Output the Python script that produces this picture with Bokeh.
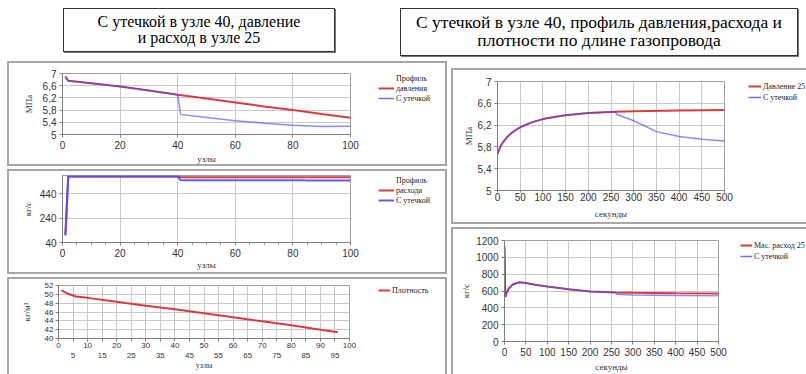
import numpy as np
from bokeh.plotting import figure
from bokeh.models import (Div, FixedTicker, CustomJSTickFormatter, Legend, LegendItem,
                          LinearAxis, Range1d)
from bokeh.layouts import column, row
from bokeh.embed import file_html
from bokeh.resources import INLINE

# ---------------- data ----------------
title_left = ["С утечкой в узле 40, давление", "и расход в узле 25"]
title_right = ["С утечкой в узле 40, профиль давления,расхода и", "плотности по длине газопровода"]

# panel 1: pressure profile along nodes
p1_nodes_red = [1, 2, 10, 20, 30, 40, 50, 60, 70, 80, 90, 100]
p1_press_red = [6.90, 6.76, 6.68, 6.57, 6.44, 6.30, 6.18, 6.05, 5.92, 5.80, 5.67, 5.55]
p1_nodes_blue = [1, 2, 10, 20, 30, 40, 41, 50, 60, 70, 80, 90, 100]
p1_press_blue = [6.90, 6.76, 6.68, 6.57, 6.44, 6.30, 5.66, 5.56, 5.45, 5.37, 5.30, 5.26, 5.27]
p1_xticks = [0, 20, 40, 60, 80, 100]
p1_yticks = [5, 5.4, 5.8, 6.2, 6.6, 7]
p1_labels = ["Профиль", "давления", "С утечкой"]

# panel 2: flow profile along nodes
p2_nodes_red = [1, 2, 40, 41, 100]
p2_flow_red = [100, 582, 582, 575, 575]
p2_nodes_blue = [1, 2, 40, 41, 84, 85, 100]
p2_flow_blue = [100, 582, 582, 552, 552, 548, 548]
p2_xticks = [0, 20, 40, 60, 80, 100]
p2_yticks = [40, 240, 440]
p2_labels = ["Профиль", "расхода", "С утечкой"]

# panel 3: density profile
p3_nodes = [1, 3, 6, 10, 20, 30, 40, 50, 60, 70, 80, 90, 96]
p3_dens = [50.9, 50.2, 49.5, 49.2, 48.3, 47.4, 46.6, 45.7, 44.8, 43.9, 43.0, 42.0, 41.4]
p3_xticks = [0, 5, 10, 15, 20, 25, 30, 35, 40, 45, 50, 55, 60, 65, 70, 75, 80, 85, 90, 95, 100]
p3_xticks_row2 = [5, 15, 25, 35, 45, 55, 65, 75, 85, 95]
p3_yticks = [40, 42, 44, 46, 48, 50, 52]
p3_labels = ["Плотность"]

# panel 4: pressure at node 25 vs time
p4_t_red = [0, 5, 10, 20, 30, 40, 50, 75, 100, 125, 150, 200, 260, 300, 400, 500]
p4_p_red = [5.67, 5.78, 5.86, 5.97, 6.05, 6.11, 6.16, 6.25, 6.31, 6.35, 6.38, 6.42, 6.445, 6.455, 6.47, 6.475]
p4_t_blue = [0, 5, 10, 20, 30, 40, 50, 75, 100, 125, 150, 200, 260, 262, 300, 350, 400, 450, 500]
p4_p_blue = [5.67, 5.78, 5.86, 5.97, 6.05, 6.11, 6.16, 6.25, 6.31, 6.35, 6.38, 6.42, 6.445,
             6.40, 6.28, 6.08, 5.99, 5.94, 5.91]
p4_xticks = [0, 50, 100, 150, 200, 250, 300, 350, 400, 450, 500]
p4_yticks = [5, 5.4, 5.8, 6.2, 6.6, 7]
p4_labels = ["Давление 25", "С утечкой"]

# panel 5: mass flow at node 25 vs time
p5_t_red = [0, 2, 5, 10, 20, 35, 50, 75, 100, 150, 200, 260, 300, 400, 500]
p5_f_red = [1130, 530, 575, 630, 680, 703, 696, 672, 653, 621, 594, 582, 578, 572, 570]
p5_t_blue = [0, 2, 5, 10, 20, 35, 50, 75, 100, 150, 200, 260, 262, 300, 400, 500]
p5_f_blue = [1130, 530, 575, 630, 680, 703, 696, 672, 653, 621, 594, 582, 560, 553, 547, 545]
p5_xticks = [0, 50, 100, 150, 200, 250, 300, 350, 400, 450, 500]
p5_yticks = [0, 200, 400, 600, 800, 1000, 1200]
p5_labels = ["Мас. расход 25", "С утечкой"]

RED = "#dc3b3b"
BLUE = "#4b4bff"
GRAY = "#a6a6a6"

comma_fmt = "return (Math.round(tick*10)/10).toString().replace('.', ',');"


def make_fig(w, h, xr, yr, ml, mr, mt, mb):
    p = figure(width=w, height=h, x_range=Range1d(*xr), y_range=Range1d(*yr),
               output_backend="svg", toolbar_location=None,
               min_border_left=ml, min_border_right=mr, min_border_top=mt, min_border_bottom=mb,
               margin=0)
    p.border_fill_color = None
    p.background_fill_color = "white"
    p.outline_line_color = "#a0a0a0"
    p.xgrid.grid_line_color = "#c8c8c8"
    p.ygrid.grid_line_color = "#c8c8c8"
    return p


def style_axes(p, fs):
    for ax in p.xaxis + p.yaxis:
        ax.axis_line_color = "#808080"
        ax.major_tick_line_color = "#808080"
        ax.minor_tick_line_color = None
        ax.major_tick_in = 0
        ax.major_tick_out = 3
        ax.major_label_standoff = 3
        ax.major_label_text_font = "Liberation Sans"
        ax.major_label_text_font_size = fs
        ax.major_label_text_color = "#333333"
        ax.axis_label_text_font = "Liberation Serif"
        ax.axis_label_text_font_size = "9px"
        ax.axis_label_text_font_style = "normal"
        ax.axis_label_text_color = "#333333"


def legend_fig(w, h, series, labels, off_x, off_y, gw, sp=0):
    """Separate legend area next to a chart.  `series` holds (x, y, color, width, alpha)
    for each legend row, or None for a text-only row.  The ranges are chosen so that the
    series themselves stay out of view; only the legend keys are visible."""
    lf = figure(width=w, height=h, x_range=Range1d(-2000, -1000), y_range=Range1d(-2000, -1000),
                output_backend="svg", toolbar_location=None,
                x_axis_location=None, y_axis_location=None,
                min_border_left=off_x, min_border_right=0, min_border_top=off_y,
                min_border_bottom=0, margin=0)
    lf.border_fill_color = None
    lf.background_fill_color = None
    lf.outline_line_color = None
    lf.grid.visible = False
    items = []
    for s, lab in zip(series, labels):
        if s is None:
            rend = lf.line(x=[], y=[], line_alpha=0)
        else:
            xs, ys, col, lw, la = s
            rend = lf.line(x=xs, y=ys, line_color=col, line_width=lw, line_alpha=la)
        items.append(LegendItem(label=lab, renderers=[rend]))
    leg = Legend(items=items, location="top_left",
                 padding=0, margin=0, spacing=sp, label_height=10, glyph_height=10,
                 glyph_width=gw, label_standoff=2, border_line_alpha=0,
                 background_fill_alpha=0, label_text_font="Liberation Serif",
                 label_text_font_size="8px", label_text_color="#222222")
    lf.add_layout(leg)
    return lf


def panel(children, shadow, margin):
    return row(*children, spacing=0, margin=margin,
               styles={"background-color": "white", "box-shadow": shadow})


SH_FULL = f"inset 0 0 0 2px {GRAY}"
SH_NOBOTTOM = f"inset 2px 2px 0 0 {GRAY}, inset -2px 0 0 0 {GRAY}"
SH_NORIGHT = f"inset 2px 2px 0 0 {GRAY}, inset 0 -2px 0 0 {GRAY}"
SH_TOPLEFT = f"inset 2px 2px 0 0 {GRAY}"

# ---------------- panel 1 ----------------
p1 = make_fig(355, 105, (0, 100), (5, 7), 55, 12, 12, 32)
p1.line(p1_nodes_red, p1_press_red, line_color=RED, line_width=2)
p1.line(p1_nodes_blue, p1_press_blue, line_color=BLUE, line_width=1.5, line_alpha=0.65)
p1.xaxis.ticker = FixedTicker(ticks=p1_xticks)
p1.yaxis.ticker = FixedTicker(ticks=p1_yticks)
p1.yaxis.formatter = CustomJSTickFormatter(code=comma_fmt)
p1.xaxis.axis_label = "узлы"
p1.yaxis.axis_label = "МПа"
style_axes(p1, "10px")
p1.yaxis.axis_label_standoff = 6
p1.xaxis.axis_label_standoff = 2
l1 = legend_fig(85, 105, [None,
                          (p1_nodes_red, p1_press_red, RED, 2, 1.0),
                          (p1_nodes_blue, p1_press_blue, BLUE, 1.5, 0.8)],
                p1_labels, 16, 4, 16, sp=-1)
row1 = panel([p1, l1], SH_FULL, (0, 0, 3, 0))

# ---------------- panel 2 ----------------
p2 = make_fig(355, 105, (0, 100), (40, 590), 55, 12, 6, 32)
p2.line(p2_nodes_red, p2_flow_red, line_color=RED, line_width=2)
p2.line(p2_nodes_blue, p2_flow_blue, line_color=BLUE, line_width=2, line_alpha=0.9)
p2.xaxis.ticker = FixedTicker(ticks=p2_xticks, minor_ticks=list(range(0, 101, 5)))
p2.yaxis.ticker = FixedTicker(ticks=p2_yticks)
p2.xaxis.axis_label = "узлы"
p2.yaxis.axis_label = "кг/с"
style_axes(p2, "10px")
p2.xaxis.minor_tick_line_color = "#808080"
p2.xaxis.minor_tick_out = 2
p2.xaxis.minor_tick_in = 0
p2.yaxis.axis_label_standoff = 4
p2.xaxis.axis_label_standoff = 0
l2 = legend_fig(85, 105, [None,
                          (p2_nodes_red, p2_flow_red, RED, 2, 1.0),
                          (p2_nodes_blue, p2_flow_blue, BLUE, 2, 0.9)],
                p2_labels, 16, 4, 16, sp=-1)
row2 = panel([p2, l2], SH_FULL, (0, 0, 3, 0))

# ---------------- panel 3 ----------------
p3 = make_fig(354, 97, (0, 100), (40, 52), 51, 12, 8, 36)
p3.line(p3_nodes, p3_dens, line_color=RED, line_width=2)
p3.xaxis.ticker = FixedTicker(ticks=p3_xticks)
p3.xaxis.formatter = CustomJSTickFormatter(code="return (tick % 10 === 0) ? tick.toFixed(0) : '';")
p3.yaxis.ticker = FixedTicker(ticks=p3_yticks)
p3.yaxis.axis_label = "кг/м³"
ax2 = LinearAxis(ticker=FixedTicker(ticks=p3_xticks_row2))
p3.add_layout(ax2, "below")
ax2.axis_label = "узлы"
style_axes(p3, "8px")
p3.xaxis[0].major_label_standoff = 1
ax2.axis_line_color = None
ax2.major_tick_line_color = None
ax2.major_tick_out = 0
ax2.major_label_standoff = 2
ax2.axis_label_standoff = 0
ax2.axis_label_text_font_size = "8px"
p3.yaxis.axis_label_standoff = 10
p3.yaxis.major_label_standoff = 2
l3 = legend_fig(86, 97, [(p3_nodes, p3_dens, RED, 2, 1.0)], p3_labels, 17, 5, 12)
row3 = panel([p3, l3], SH_NOBOTTOM, 0)

# ---------------- panel 4 ----------------
p4 = make_fig(285, 156, (0, 500), (5, 7), 46, 12, 13, 34)
p4.line(p4_t_red, p4_p_red, line_color=RED, line_width=2)
p4.line(p4_t_blue, p4_p_blue, line_color=BLUE, line_width=1.5, line_alpha=0.65)
p4.xaxis.ticker = FixedTicker(ticks=p4_xticks)
p4.yaxis.ticker = FixedTicker(ticks=p4_yticks)
p4.yaxis.formatter = CustomJSTickFormatter(code=comma_fmt)
p4.xaxis.axis_label = "секунды"
p4.yaxis.axis_label = "МПа"
style_axes(p4, "10px")
p4.xaxis.major_tick_out = 2
p4.xaxis.major_label_standoff = 0
p4.xaxis.axis_label_standoff = 5
p4.yaxis.axis_label_standoff = 1
l4 = legend_fig(70, 156, [(p4_t_red, p4_p_red, RED, 2, 1.0),
                          (p4_t_blue, p4_p_blue, BLUE, 1.5, 0.8)],
                p4_labels, 12, 5, 13, sp=1)
row4 = panel([p4, l4], SH_NORIGHT, (7, 0, 3, 0))

# ---------------- panel 5 ----------------
p5 = make_fig(279, 147, (0, 500), (0, 1200), 53, 12, 13, 32)
p5.line(p5_t_red, p5_f_red, line_color=RED, line_width=2)
p5.line(p5_t_blue, p5_f_blue, line_color=BLUE, line_width=1.5, line_alpha=0.65)
p5.xaxis.ticker = FixedTicker(ticks=p5_xticks)
p5.yaxis.ticker = FixedTicker(ticks=p5_yticks)
p5.xaxis.axis_label = "секунды"
p5.yaxis.axis_label = "кг/с"
style_axes(p5, "10px")
p5.xaxis.axis_label_standoff = 3
p5.yaxis.axis_label_standoff = 2
l5 = legend_fig(76, 147, [(p5_t_red, p5_f_red, RED, 2, 1.0),
                          (p5_t_blue, p5_f_blue, BLUE, 1.5, 0.8)],
                p5_labels, 10, 5, 12, sp=1)
row5 = panel([p5, l5], SH_TOPLEFT, 0)

# ---------------- titles ----------------
box_style = ("position:absolute;border:1px solid #333;box-shadow:1px 1px 0 #777;"
             "text-align:center;box-sizing:border-box;background:white;white-space:nowrap;")
html = (
    "<div style=\"position:relative;width:806px;height:61px;"
    "font-family:'Liberation Serif',serif;color:#000;\">"
    f"<div style=\"{box_style}left:63px;top:8px;width:272px;height:44px;font-size:16px;"
    f"line-height:16px;padding-top:5px;\">"
    f"{title_left[0]}<br>{title_left[1]}</div>"
    f"<div style=\"{box_style}left:400px;top:8px;width:398px;height:48px;font-size:17.5px;"
    f"line-height:18px;padding-top:4px;\">"
    f"{title_right[0]}<br>{title_right[1]}</div>"
    "</div>"
)
title_div = Div(text=html, width=806, height=61, margin=0)

left_col = column(row1, row2, row3, margin=(0, 0, 0, 7), spacing=0)
right_col = column(row4, row5, margin=(0, 0, 0, 4), spacing=0)
body = row(left_col, right_col, spacing=0, margin=0)
root = column(title_div, body, spacing=0, margin=0)

open("out.html", "w").write(file_html(root, INLINE))
